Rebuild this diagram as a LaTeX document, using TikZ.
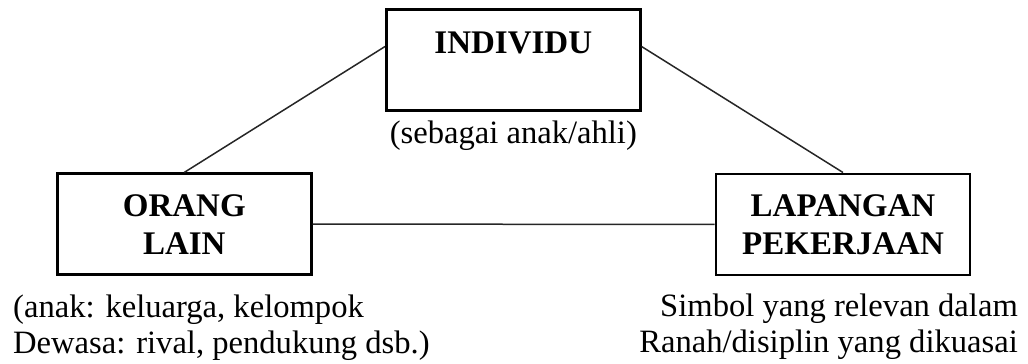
\documentclass[tikz,border=0pt]{standalone}
\usepackage{fontspec}
\setmainfont{Liberation Serif}
\usetikzlibrary{calc}

\tikzset{
  box/.style={draw=black, line width=2.6pt, minimum width=254pt, minimum height=101pt, inner sep=0pt},
  title/.style={font=\bfseries\fontsize{33}{38}\selectfont, align=center, inner sep=0pt},
  note/.style={font=\fontsize{32.6}{36}\selectfont, inner sep=0pt},
  link/.style={draw=black!85, line width=1.5pt}
}

\begin{document}
\begin{tikzpicture}[x=1pt, y=-1pt]
  \useasboundingbox (0,0) rectangle (1028,364);

  % the three boxes
  \node[box] (ind) at (513.3,60) {};
  \node[title, anchor=base] (indt) at (513.3,53) {INDIVIDU};
  \node[box, title] (ol) at (184.3,224.2) {ORANG\\LAIN};
  \node[box, title] (lp) at (843,224.3) {LAPANGAN\\PEKERJAAN};

  % captions (base anchor of a two-line node sits on its last line)
  \node[note, anchor=base] (indc) at (513.3,143) {(sebagai anak/ahli)};
  \node[note, anchor=base west, align=left] (olc) at (13,353)
    {(anak: keluarga, kelompok\\Dewasa: rival, pendukung dsb.)};
  \node[note, anchor=base east, align=right] (lpc) at (1018,352)
    {Simbol yang relevan dalam\\Ranah/disiplin yang dikuasai};

  % connectors
  \draw[link] ($(ind.north west)!0.37!(ind.south west)$) -- (ol.north);
  \draw[link] ($(ind.north east)!0.37!(ind.south east)$) -- (lp.north);
  \draw[link] (ol.east) -- (lp.west);
\end{tikzpicture}
\end{document}
